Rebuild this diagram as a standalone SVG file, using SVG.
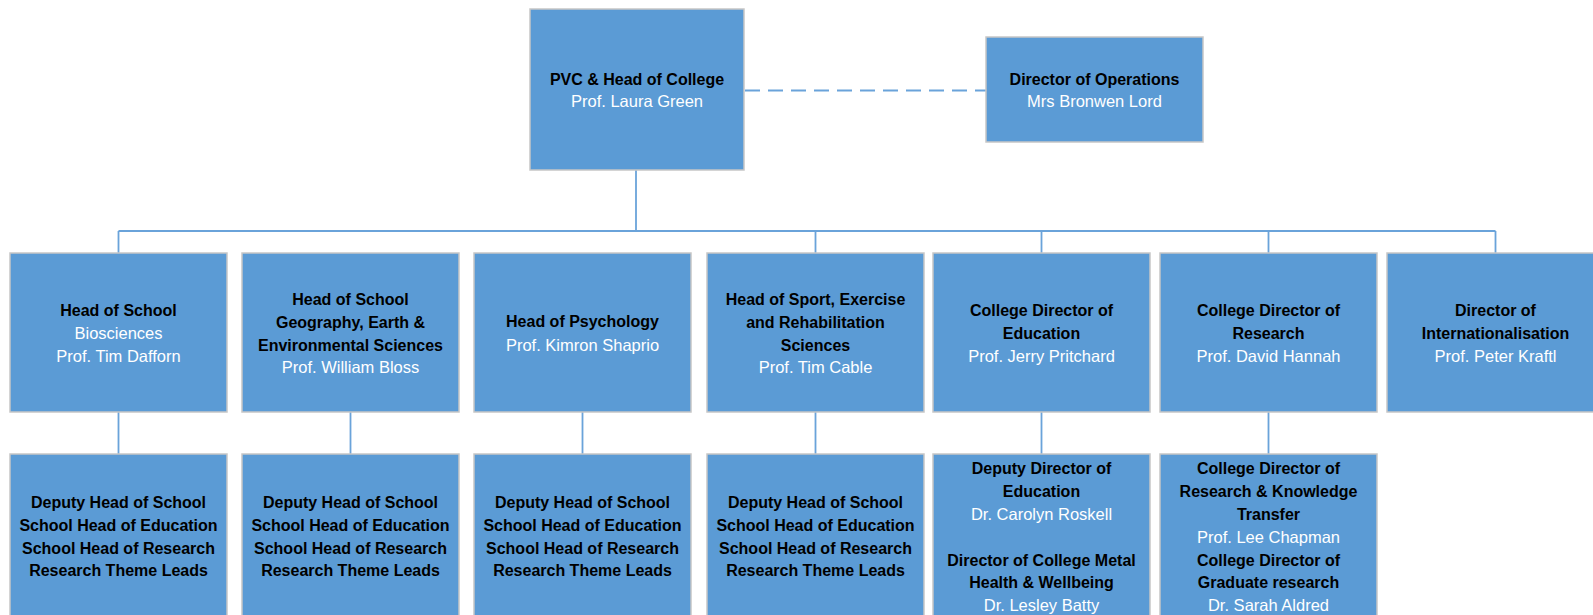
<svg xmlns="http://www.w3.org/2000/svg" width="1593" height="615" viewBox="0 0 1593 615">
<style>
.box{fill:#5B9BD5;stroke:#C6C6C6;stroke-width:1.5}
.t{font-family:"Liberation Sans",Arial,sans-serif;font-size:16px;font-weight:bold;fill:#000;text-anchor:middle}
.n{font-family:"Liberation Sans",Arial,sans-serif;font-size:16.5px;fill:#fff;text-anchor:middle}
.c{fill:none;stroke:#6AA3DA;stroke-width:1.8}
.d{fill:none;stroke:#6AA3DA;stroke-width:2;stroke-dasharray:15 8}
</style>
<rect width="1593" height="615" fill="#fff"/>
<g id="connectors">
<line class="d" x1="745" y1="90.5" x2="986" y2="90.5"/>
<line class="c" x1="636" y1="170" x2="636" y2="231"/>
<line class="c" x1="118.5" y1="231" x2="1495.5" y2="231"/>
<line class="c" x1="118.5" y1="231" x2="118.5" y2="253"/>
<line class="c" x1="815.5" y1="231" x2="815.5" y2="253"/>
<line class="c" x1="1041.5" y1="231" x2="1041.5" y2="253"/>
<line class="c" x1="1268.5" y1="231" x2="1268.5" y2="253"/>
<line class="c" x1="1495.5" y1="231" x2="1495.5" y2="253"/>
<line class="c" x1="118.5" y1="412" x2="118.5" y2="454"/>
<line class="c" x1="350.5" y1="412" x2="350.5" y2="454"/>
<line class="c" x1="582.5" y1="412" x2="582.5" y2="454"/>
<line class="c" x1="815.5" y1="412" x2="815.5" y2="454"/>
<line class="c" x1="1041.5" y1="412" x2="1041.5" y2="454"/>
<line class="c" x1="1268.5" y1="412" x2="1268.5" y2="454"/>
</g>
<g id="pvc">
<rect class="box" x="530" y="9" width="214" height="161"/>
<text class="t" x="637" y="84.5">PVC &amp; Head of College</text>
<text class="n" x="637" y="106.5">Prof. Laura Green</text>
</g>
<g id="ops">
<rect class="box" x="986" y="37" width="217" height="105"/>
<text class="t" x="1094.5" y="84.5">Director of Operations</text>
<text class="n" x="1094.5" y="106.5">Mrs Bronwen Lord</text>
</g>
<g id="hos-bio">
<rect class="box" x="10" y="253" width="217" height="159"/>
<text class="t" x="118.5" y="316">Head of School</text>
<text class="n" x="118.5" y="339">Biosciences</text>
<text class="n" x="118.5" y="361.5">Prof. Tim Dafforn</text>
</g>
<g id="hos-geo">
<rect class="box" x="242" y="253" width="217" height="159"/>
<text class="t" x="350.5" y="305">Head of School</text>
<text class="t" x="350.5" y="328">Geography, Earth &amp;</text>
<text class="t" x="350.5" y="350.5">Environmental Sciences</text>
<text class="n" x="350.5" y="373">Prof. William Bloss</text>
</g>
<g id="hos-psy">
<rect class="box" x="474" y="253" width="217" height="159"/>
<text class="t" x="582.5" y="327">Head of Psychology</text>
<text class="n" x="582.5" y="350.5">Prof. Kimron Shaprio</text>
</g>
<g id="hos-sport">
<rect class="box" x="707" y="253" width="217" height="159"/>
<text class="t" x="815.5" y="305">Head of Sport, Exercise</text>
<text class="t" x="815.5" y="328">and Rehabilitation</text>
<text class="t" x="815.5" y="350.5">Sciences</text>
<text class="n" x="815.5" y="373">Prof. Tim Cable</text>
</g>
<g id="dir-edu">
<rect class="box" x="933" y="253" width="217" height="159"/>
<text class="t" x="1041.5" y="316">College Director of</text>
<text class="t" x="1041.5" y="339">Education</text>
<text class="n" x="1041.5" y="361.5">Prof. Jerry Pritchard</text>
</g>
<g id="dir-res">
<rect class="box" x="1160" y="253" width="217" height="159"/>
<text class="t" x="1268.5" y="316">College Director of</text>
<text class="t" x="1268.5" y="339">Research</text>
<text class="n" x="1268.5" y="361.5">Prof. David Hannah</text>
</g>
<g id="dir-int">
<rect class="box" x="1387" y="253" width="217" height="159"/>
<text class="t" x="1495.5" y="316">Director of</text>
<text class="t" x="1495.5" y="339">Internationalisation</text>
<text class="n" x="1495.5" y="361.5">Prof. Peter Kraftl</text>
</g>
<g id="leads-bio">
<rect class="box" x="10" y="454" width="217" height="175"/>
<text class="t" x="118.5" y="508">Deputy Head of School</text>
<text class="t" x="118.5" y="530.5">School Head of Education</text>
<text class="t" x="118.5" y="553.5">School Head of Research</text>
<text class="t" x="118.5" y="576">Research Theme Leads</text>
</g>
<g id="leads-geo">
<rect class="box" x="242" y="454" width="217" height="175"/>
<text class="t" x="350.5" y="508">Deputy Head of School</text>
<text class="t" x="350.5" y="530.5">School Head of Education</text>
<text class="t" x="350.5" y="553.5">School Head of Research</text>
<text class="t" x="350.5" y="576">Research Theme Leads</text>
</g>
<g id="leads-psy">
<rect class="box" x="474" y="454" width="217" height="175"/>
<text class="t" x="582.5" y="508">Deputy Head of School</text>
<text class="t" x="582.5" y="530.5">School Head of Education</text>
<text class="t" x="582.5" y="553.5">School Head of Research</text>
<text class="t" x="582.5" y="576">Research Theme Leads</text>
</g>
<g id="leads-sport">
<rect class="box" x="707" y="454" width="217" height="175"/>
<text class="t" x="815.5" y="508">Deputy Head of School</text>
<text class="t" x="815.5" y="530.5">School Head of Education</text>
<text class="t" x="815.5" y="553.5">School Head of Research</text>
<text class="t" x="815.5" y="576">Research Theme Leads</text>
</g>
<g id="deputy-edu">
<rect class="box" x="933" y="454" width="217" height="175"/>
<text class="t" x="1041.5" y="473.5">Deputy Director of</text>
<text class="t" x="1041.5" y="496.5">Education</text>
<text class="n" x="1041.5" y="519.5">Dr. Carolyn Roskell</text>
<text class="t" x="1041.5" y="565.5">Director of College Metal</text>
<text class="t" x="1041.5" y="588">Health &amp; Wellbeing</text>
<text class="n" x="1041.5" y="610.5">Dr. Lesley Batty</text>
</g>
<g id="research-kt">
<rect class="box" x="1160" y="454" width="217" height="175"/>
<text class="t" x="1268.5" y="473.5">College Director of</text>
<text class="t" x="1268.5" y="496.5">Research &amp; Knowledge</text>
<text class="t" x="1268.5" y="519.5">Transfer</text>
<text class="n" x="1268.5" y="542.5">Prof. Lee Chapman</text>
<text class="t" x="1268.5" y="565.5">College Director of</text>
<text class="t" x="1268.5" y="588">Graduate research</text>
<text class="n" x="1268.5" y="610.5">Dr. Sarah Aldred</text>
</g>
</svg>
